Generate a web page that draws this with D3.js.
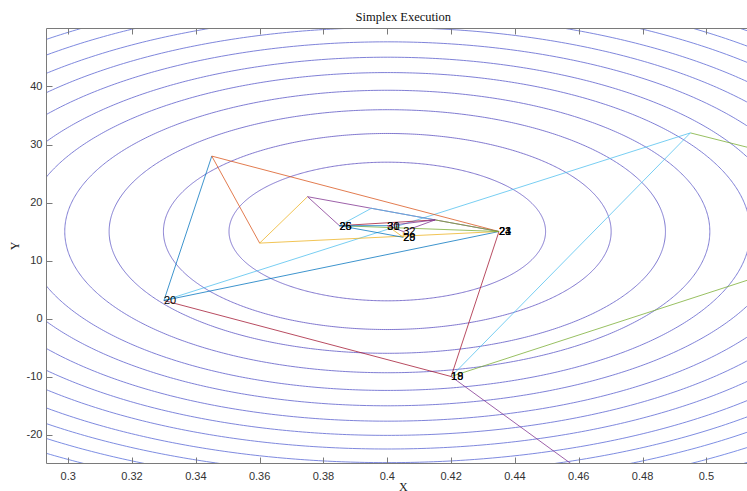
<!DOCTYPE html>
<html><head><meta charset="utf-8">
<script src="https://cdn.jsdelivr.net/npm/d3@7"></script>
<style>body{margin:0;background:#fff} svg{display:block}</style>
</head><body><svg id="chart" width="747" height="491"></svg>
<script>
// ---- data ----
const xDomain = [0.2932, 0.5168];
const yDomain = [-25, 50];
const xTicks = [0.3, 0.32, 0.34, 0.36, 0.38, 0.4, 0.42, 0.44, 0.46, 0.48, 0.5];
const xTickLabels = ["0.3", "0.32", "0.34", "0.36", "0.38", "0.4", "0.42", "0.44", "0.46", "0.48", "0.5"];
const yTicks = [-20, -10, 0, 10, 20, 30, 40];
const yTickLabels = ["-20", "-10", "0", "10", "20", "30", "40"];

// objective contours: ellipses around the optimum, radius in Y units, X scaled by aspect
const contourCenterX = 0.4;
const contourCenterY = 15;
const contourAspect = 0.004151;
const contourRadii = [11.95, 16.9, 21.0, 24.35, 27.4, 30.05, 32.7, 35.15, 37.5, 39.85, 41.95, 44.0, 46.1, 48.2, 50.2];

// simplex vertices
const vertexNames = ["A", "B", "C", "D", "E", "F", "G", "P", "Q", "R", "S", "T", "U", "V", "W"];
const vertexX = [0.435, 0.345, 0.33, 0.42, 0.495, 0.52, 0.585, 0.36, 0.375, 0.385, 0.40, 0.405, 0.405, 0.415, 0.395];
const vertexY = [15, 28, 3.1, -10, 32, -50, 19.5, 13, 21, 16, 16, 15, 14, 17, 19];

// simplex triangles in drawing order
const simplexSteps = [
  ["D", "F", "G"], ["D", "G", "E"], ["D", "E", "C"], ["D", "C", "A"],
  ["C", "A", "B"], ["A", "B", "P"], ["A", "P", "Q"], ["A", "Q", "R"],
  ["A", "R", "V"], ["R", "V", "W"], ["R", "V", "S"], ["R", "S", "U"],
  ["S", "U", "T"], ["S", "T", "U"], ["S", "T", "V"]
];
const colorOrder = ["#0072BD", "#D95319", "#EDB120", "#7E2F8E", "#77AC30", "#4DBEEE", "#A2142F"];
const colorStart = 3;

// iteration labels
const labelText = ["18", "19", "20", "21", "23", "24", "25", "26", "28", "29", "30", "31", "32"];
const labelVertex = ["D", "D", "C", "A", "A", "A", "R", "R", "U", "U", "S", "S", "T"];

// ---- drawing ----
const L = 46.5, T = 28.5, R = 760, B = 463.5;
const svg = d3.select("#chart");
const x = d3.scaleLinear().domain(xDomain).range([L, R]);
const y = d3.scaleLinear().domain(yDomain).range([B, T]);

svg.append("defs").append("clipPath").attr("id", "clip")
  .append("rect").attr("x", L).attr("y", T).attr("width", R - L).attr("height", B - T);

const plot = svg.append("g").attr("clip-path", "url(#clip)");

const cColor = d3.interpolateRgb("#7367c8", "#6d88e6");
const line = d3.line().x(d => x(d[0])).y(d => y(d[1]));
const angles = d3.range(0, 721).map(i => i * Math.PI / 360);
plot.selectAll("path.contour").data(contourRadii).join("path")
  .attr("class", "contour")
  .attr("d", r => line(angles.map(a => [contourCenterX + contourAspect * r * Math.cos(a), contourCenterY + r * Math.sin(a)])))
  .attr("fill", "none")
  .attr("stroke", (r, i) => cColor(i / (contourRadii.length - 1)))
  .attr("stroke-width", 0.9);

// each simplex edge keeps the colour of the last triangle that drew it (later plots cover earlier ones)
const vIndex = name => vertexNames.indexOf(name);
const edgeMap = new Map();
simplexSteps.forEach((tri, i) => {
  const col = colorOrder[(colorStart + i) % colorOrder.length];
  for (let k = 0; k < 3; k++) {
    const a = tri[k], b = tri[(k + 1) % 3];
    const key = [a, b].sort().join("-");
    edgeMap.delete(key);
    edgeMap.set(key, {a, b, col});
  }
});
const edges = Array.from(edgeMap.values());
plot.selectAll("line.simplex").data(edges).join("line")
  .attr("class", "simplex")
  .attr("x1", d => x(vertexX[vIndex(d.a)])).attr("y1", d => y(vertexY[vIndex(d.a)]))
  .attr("x2", d => x(vertexX[vIndex(d.b)])).attr("y2", d => y(vertexY[vIndex(d.b)]))
  .attr("stroke", d => d.col)
  .attr("stroke-width", 0.85)
  .attr("stroke-opacity", 0.9);

svg.selectAll("text.lbl").data(labelText).join("text")
  .attr("class", "lbl")
  .attr("x", (d, i) => x(vertexX[vIndex(labelVertex[i])]))
  .attr("y", (d, i) => y(vertexY[vIndex(labelVertex[i])]))
  .attr("dy", "0.35em")
  .attr("font-family", "'Liberation Sans', Arial, sans-serif")
  .attr("font-size", 11)
  .attr("fill", "#000")
  .text(d => d);

// axes box
const axisColor = "#7a7a7a";
const ax = svg.append("g");
ax.append("line").attr("x1", L).attr("x2", L).attr("y1", T).attr("y2", B).attr("stroke", axisColor);
ax.append("line").attr("x1", L).attr("x2", R).attr("y1", T).attr("y2", T).attr("stroke", axisColor);
ax.append("line").attr("x1", L).attr("x2", R).attr("y1", B).attr("y2", B).attr("stroke", axisColor);
ax.append("line").attr("x1", R).attr("x2", R).attr("y1", T).attr("y2", B).attr("stroke", axisColor);

const tickLen = 6;
const fontSans = "'Liberation Sans', Arial, Helvetica, sans-serif";
xTicks.forEach((t, i) => {
  const px = Math.round(x(t)) + 0.5;
  ax.append("line").attr("x1", px).attr("x2", px).attr("y1", B).attr("y2", B - tickLen).attr("stroke", axisColor);
  ax.append("line").attr("x1", px).attr("x2", px).attr("y1", T).attr("y2", T + tickLen).attr("stroke", axisColor);
  ax.append("text").attr("x", x(t)).attr("y", 479.5).attr("text-anchor", "middle")
    .attr("font-family", fontSans).attr("font-size", 11).attr("fill", "#333").text(xTickLabels[i]);
});
yTicks.forEach((t, i) => {
  const py = Math.round(y(t)) + 0.5;
  ax.append("line").attr("x1", L).attr("x2", L + tickLen).attr("y1", py).attr("y2", py).attr("stroke", axisColor);
  ax.append("text").attr("x", 42.5).attr("y", y(t)).attr("dy", "0.35em").attr("text-anchor", "end")
    .attr("font-family", fontSans).attr("font-size", 11).attr("fill", "#333").text(yTickLabels[i]);
});

const fontSerif = "'Liberation Serif', 'Times New Roman', serif";
svg.append("text").attr("x", 403.3).attr("y", 21).attr("text-anchor", "middle")
  .attr("font-family", fontSerif).attr("font-size", 12.5).attr("fill", "#111").text("Simplex Execution");
svg.append("text").attr("x", 403.3).attr("y", 491).attr("text-anchor", "middle")
  .attr("font-family", fontSerif).attr("font-size", 12).attr("fill", "#222").text("X");
svg.append("text").attr("transform", "translate(19,246) rotate(-90)").attr("text-anchor", "middle")
  .attr("font-family", fontSerif).attr("font-size", 12).attr("fill", "#222").text("Y");
</script>
</body></html>
